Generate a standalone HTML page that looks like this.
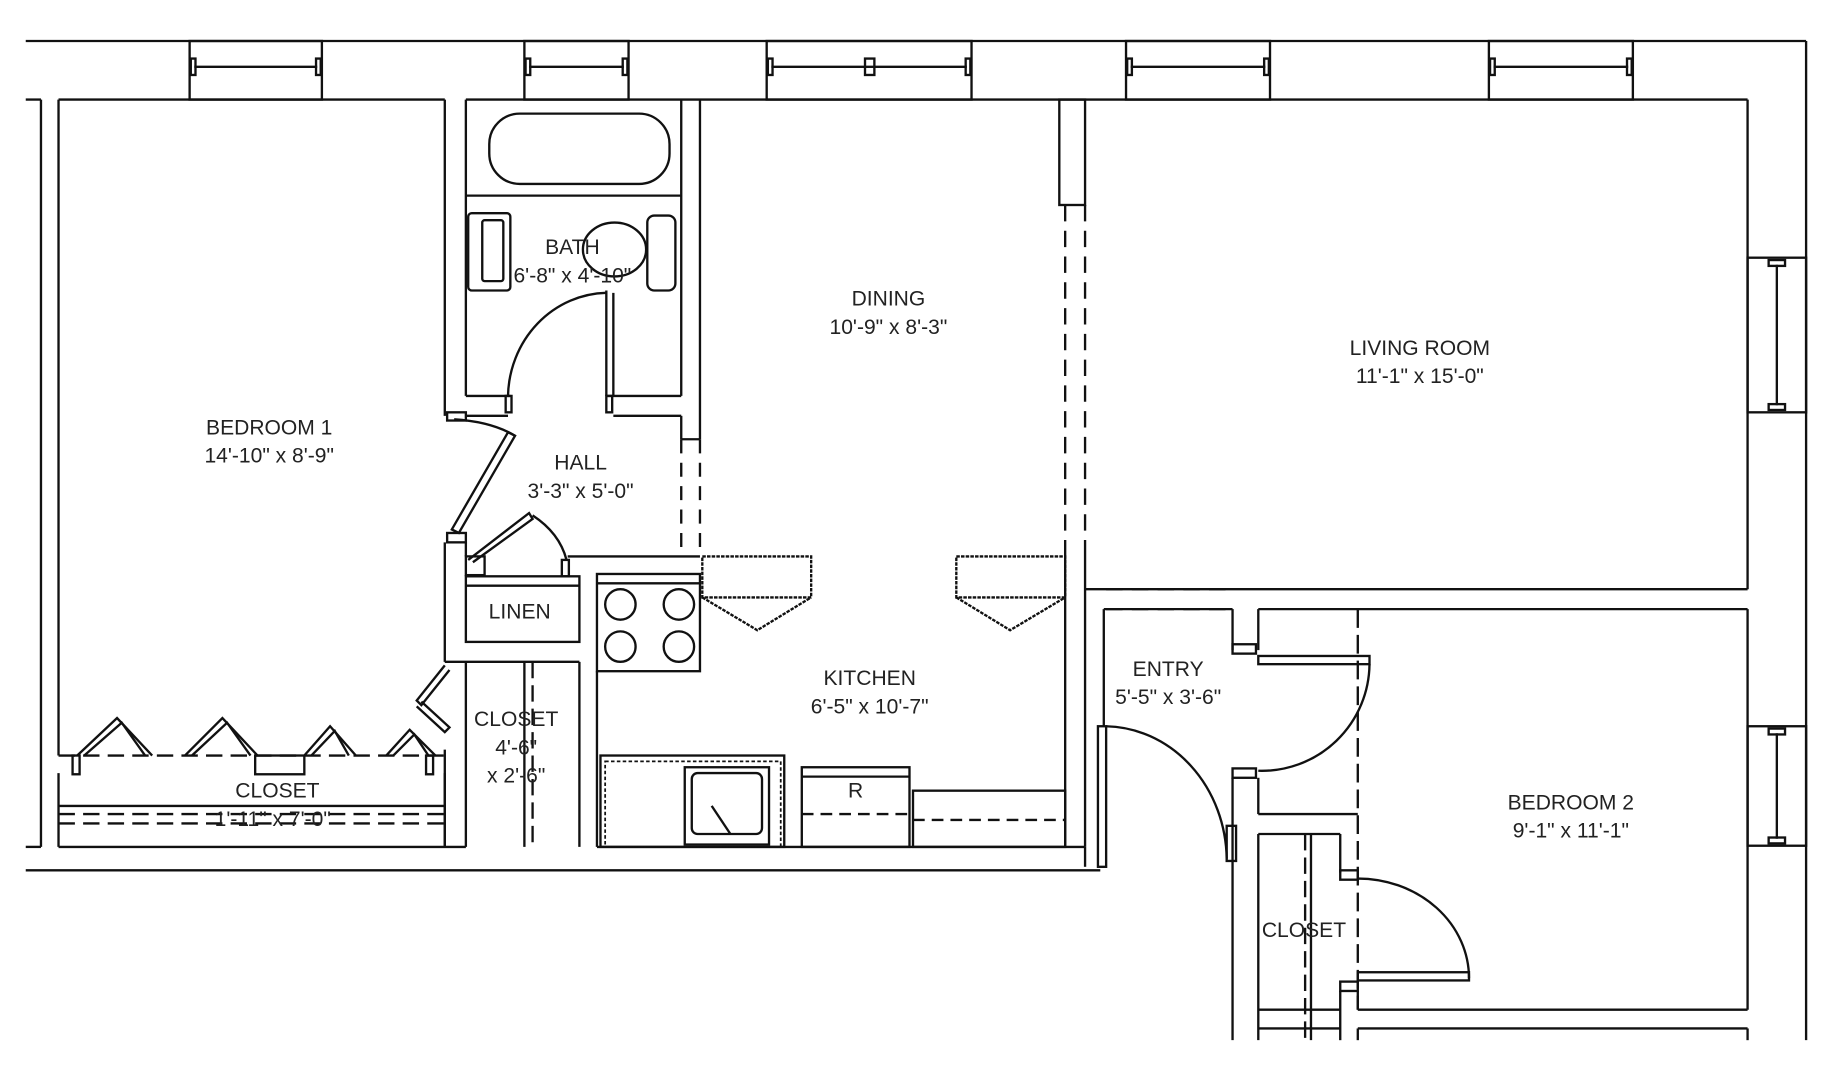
<!DOCTYPE html>
<html><head><style>html,body{margin:0;padding:0;background:#fff}svg{display:block}text{font-family:"Liberation Sans",sans-serif;font-size:18px;fill:#222;text-anchor:middle}</style></head>
<body>
<svg width="1826" height="1080" viewBox="0 0 1560 922" preserveAspectRatio="none" xmlns="http://www.w3.org/2000/svg">
<g fill="none" stroke="#111" stroke-width="2">
<line x1="22" y1="35" x2="1543" y2="35"/>
<line x1="1543" y1="35" x2="1543" y2="888"/>
<line x1="22" y1="743" x2="940" y2="743"/>
<line x1="22" y1="85" x2="35" y2="85"/>
<line x1="35" y1="85" x2="35" y2="723"/>
<line x1="22" y1="723" x2="35" y2="723"/>
<line x1="50" y1="85" x2="380" y2="85"/>
<line x1="50" y1="85" x2="50" y2="645"/>
<line x1="398" y1="85" x2="1493" y2="85"/>
<line x1="1493" y1="85" x2="1493" y2="503"/>
<line x1="1493" y1="520" x2="1493" y2="862"/>
<line x1="1493" y1="878" x2="1493" y2="888"/>
<g>
<rect x="162" y="35" width="113" height="50"/><line x1="166" y1="57" x2="271" y2="57"/><rect x="163" y="50" width="4" height="14"/><rect x="270" y="50" width="4" height="14"/>
<rect x="448" y="35" width="89" height="50"/><line x1="452" y1="57" x2="533" y2="57"/><rect x="449" y="50" width="4" height="14"/><rect x="532" y="50" width="4" height="14"/>
<rect x="655" y="35" width="175" height="50"/><line x1="659" y1="57" x2="826" y2="57"/><rect x="656" y="50" width="4" height="14"/><rect x="739" y="50" width="8" height="14"/><rect x="825" y="50" width="4" height="14"/>
<rect x="962" y="35" width="123" height="50"/><line x1="966" y1="57" x2="1081" y2="57"/><rect x="963" y="50" width="4" height="14"/><rect x="1080" y="50" width="4" height="14"/>
<rect x="1272" y="35" width="123" height="50"/><line x1="1276" y1="57" x2="1391" y2="57"/><rect x="1273" y="50" width="4" height="14"/><rect x="1390" y="50" width="4" height="14"/>
<rect x="1493" y="220" width="50" height="132"/><line x1="1518" y1="226" x2="1518" y2="346"/><rect x="1511" y="222" width="14" height="5"/><rect x="1511" y="345" width="14" height="5"/>
<rect x="1493" y="620" width="50" height="102"/><line x1="1518" y1="626" x2="1518" y2="716"/><rect x="1511" y="622" width="14" height="5"/><rect x="1511" y="715" width="14" height="5"/>
</g>
<line x1="380" y1="85" x2="380" y2="355"/>
<line x1="398" y1="85" x2="398" y2="338"/>
<line x1="582" y1="85" x2="582" y2="338"/>
<line x1="598" y1="85" x2="598" y2="375"/>
<line x1="398" y1="167" x2="582" y2="167"/>
<rect x="418" y="97" width="154" height="60" rx="26"/>
<rect x="400" y="182" width="36" height="66" rx="3"/>
<rect x="412" y="188" width="18" height="52" rx="2"/>
<rect x="553" y="184" width="24" height="64" rx="6"/>
<ellipse cx="525" cy="213" rx="27" ry="23"/>
<line x1="398" y1="338" x2="436" y2="338"/>
<line x1="518" y1="338" x2="582" y2="338"/>
<line x1="518" y1="248" x2="518" y2="338"/><line x1="524" y1="250" x2="524" y2="338"/>
<path d="M518 250 A86 90 0 0 0 434 338"/>
<rect x="432" y="338" width="5" height="14"/><rect x="518" y="338" width="5" height="14"/>
<line x1="398" y1="355" x2="434" y2="355"/>
<line x1="524" y1="355" x2="582" y2="355"/>
<line x1="582" y1="355" x2="582" y2="375"/>
<line x1="582" y1="375" x2="598" y2="375"/>
<line x1="582" y1="375" x2="582" y2="475" stroke-dasharray="12 8"/>
<line x1="598" y1="375" x2="598" y2="475" stroke-dasharray="12 8"/>
<line x1="485" y1="475" x2="598" y2="475"/>
<rect x="382" y="352" width="16" height="7"/>
<path d="M388 358 Q420 360 440 372"/>
<path d="M440 372 L392 455 L386 452 L434 369 Z"/>
<rect x="382" y="455" width="16" height="8"/>
<line x1="380" y1="463" x2="380" y2="565"/>
<line x1="398" y1="463" x2="398" y2="475"/>
<path d="M400 478 L452 438 L455 443 L404 480"/>
<path d="M455 440 Q478 455 484 478"/>
<rect x="398" y="475" width="16" height="16"/><rect x="480" y="478" width="6" height="14"/>
<rect x="398" y="492" width="97" height="56"/>
<line x1="398" y1="500" x2="495" y2="500"/>
<line x1="380" y1="565" x2="495" y2="565"/>
<line x1="398" y1="565" x2="398" y2="723"/>
<line x1="495" y1="565" x2="495" y2="723"/>
<line x1="448" y1="565" x2="448" y2="723"/>
<line x1="455" y1="565" x2="455" y2="723" stroke-dasharray="14 6"/>
<path d="M380 568 L356 598 L360 602 L384 572"/>
<path d="M356 603 L380 625 L384 621 L360 599"/>
<line x1="380" y1="640" x2="380" y2="723"/>
<line x1="50" y1="645" x2="380" y2="645" stroke-dasharray="14 7"/>
<line x1="50" y1="660" x2="50" y2="723"/>
<line x1="380" y1="660" x2="380" y2="723"/>
<line x1="50" y1="723" x2="398" y2="723"/>
<line x1="50" y1="688" x2="380" y2="688"/>
<line x1="50" y1="695" x2="380" y2="695" stroke-dasharray="14 7"/>
<line x1="50" y1="703" x2="380" y2="703" stroke-dasharray="14 7"/>
<rect x="62" y="645" width="6" height="16"/><rect x="364" y="645" width="6" height="16"/>
<rect x="218" y="645" width="42" height="16"/>
<path d="M66 645 L100 613 L130 645"/><path d="M72 645 L104 617 L124 645"/>
<path d="M158 645 L190 613 L220 645"/><path d="M164 645 L194 617 L214 645"/>
<path d="M260 645 L282 620 L304 645"/><path d="M266 645 L286 624 L298 645"/>
<path d="M330 645 L350 623 L372 645"/><path d="M336 645 L354 627 L366 645"/>
<rect x="905" y="85" width="22" height="90"/>
<line x1="910" y1="175" x2="910" y2="470" stroke-dasharray="14 8"/>
<line x1="927" y1="175" x2="927" y2="470" stroke-dasharray="14 8"/>
<line x1="910" y1="470" x2="910" y2="723"/>
<line x1="927" y1="470" x2="927" y2="723"/>
<line x1="927" y1="503" x2="1493" y2="503"/>
<line x1="943" y1="520" x2="1053" y2="520"/>
<line x1="1075" y1="520" x2="1493" y2="520"/>
<line x1="945" y1="503" x2="1053" y2="503" stroke-dasharray="14 8"/>
<line x1="945" y1="520" x2="1053" y2="520" stroke-dasharray="14 8"/>
<rect x="510" y="490" width="88" height="83"/>
<line x1="510" y1="498" x2="598" y2="498"/>
<circle cx="530" cy="516" r="13"/><circle cx="580" cy="516" r="13"/>
<circle cx="530" cy="552" r="13"/><circle cx="580" cy="552" r="13"/>
<line x1="510" y1="573" x2="510" y2="723"/>
<line x1="510" y1="723" x2="927" y2="723"/>
<rect x="600" y="475" width="93" height="35" stroke-dasharray="3 1"/>
<path d="M600 510 L647 538 L693 510" stroke-dasharray="3 1"/>
<rect x="817" y="475" width="93" height="35" stroke-dasharray="3 1"/>
<path d="M817 510 L863 538 L910 510" stroke-dasharray="3 1"/>
<rect x="513" y="645" width="157" height="78"/>
<rect x="517" y="650" width="150" height="73" stroke-dasharray="3 2" stroke-width="1.5"/>
<rect x="585" y="655" width="72" height="66"/>
<rect x="591" y="660" width="60" height="52" rx="5"/>
<line x1="608" y1="688" x2="624" y2="712"/>
<rect x="685" y="655" width="92" height="68"/>
<line x1="685" y1="663" x2="777" y2="663"/>
<line x1="685" y1="695" x2="777" y2="695" stroke-dasharray="10 6"/>
<rect x="780" y="675" width="130" height="48"/>
<line x1="780" y1="700" x2="910" y2="700" stroke-dasharray="10 6"/>
<line x1="943" y1="520" x2="943" y2="620"/>
<rect x="938" y="620" width="7" height="120"/>
<path d="M945 620 A105 115 0 0 1 1048 733"/>
<line x1="927" y1="723" x2="927" y2="740"/>
<rect x="1048" y="705" width="8" height="30"/>
<line x1="1053" y1="520" x2="1053" y2="555"/>
<line x1="1075" y1="520" x2="1075" y2="555"/>
<rect x="1053" y="550" width="20" height="8"/>
<rect x="1075" y="560" width="95" height="7"/>
<path d="M1170 567 A92 92 0 0 1 1075 658"/>
<rect x="1053" y="656" width="20" height="8"/>
<line x1="1053" y1="664" x2="1053" y2="888"/>
<line x1="1075" y1="664" x2="1075" y2="695"/>
<line x1="1075" y1="695" x2="1160" y2="695"/>
<line x1="1160" y1="520" x2="1160" y2="862" stroke-dasharray="16 6"/>
<line x1="1075" y1="712" x2="1145" y2="712"/>
<line x1="1075" y1="712" x2="1075" y2="888"/>
<line x1="1120" y1="712" x2="1120" y2="888"/>
<line x1="1115" y1="712" x2="1115" y2="888" stroke-dasharray="14 6"/>
<line x1="1145" y1="712" x2="1145" y2="745"/>
<rect x="1145" y="743" width="15" height="8"/>
<path d="M1160 750 A95 85 0 0 1 1255 835"/>
<rect x="1160" y="830" width="95" height="7"/>
<rect x="1145" y="838" width="15" height="8"/>
<line x1="1145" y1="846" x2="1145" y2="888"/>
<line x1="1160" y1="846" x2="1160" y2="862"/>
<line x1="1075" y1="862" x2="1145" y2="862"/>
<line x1="1160" y1="862" x2="1493" y2="862"/>
<line x1="1075" y1="878" x2="1145" y2="878"/>
<line x1="1160" y1="878" x2="1493" y2="878"/>
<line x1="1160" y1="878" x2="1160" y2="888"/>
</g>
<text x="230" y="371">BEDROOM 1</text><text x="230" y="395">14'-10" x 8'-9"</text>
<text x="489" y="217">BATH</text><text x="489" y="241">6'-8" x 4'-10"</text>
<text x="496" y="401">HALL</text><text x="496" y="425">3'-3" x 5'-0"</text>
<text x="759" y="261">DINING</text><text x="759" y="285">10'-9" x 8'-3"</text>
<text x="1213" y="303">LIVING ROOM</text><text x="1213" y="327">11'-1" x 15'-0"</text>
<text x="444" y="528">LINEN</text>
<text x="441" y="620">CLOSET</text><text x="441" y="644">4'-6"</text><text x="441" y="668">x 2'-6"</text>
<text x="237" y="681">CLOSET</text><text x="233" y="705">1'-11" x 7'-0"</text>
<text x="743" y="585">KITCHEN</text><text x="743" y="609">6'-5" x 10'-7"</text>
<text x="731" y="681">R</text>
<text x="998" y="577">ENTRY</text><text x="998" y="601">5'-5" x 3'-6"</text>
<text x="1342" y="691">BEDROOM 2</text><text x="1342" y="715">9'-1" x 11'-1"</text>
<text x="1114" y="800">CLOSET</text>
</svg>
</body></html>
